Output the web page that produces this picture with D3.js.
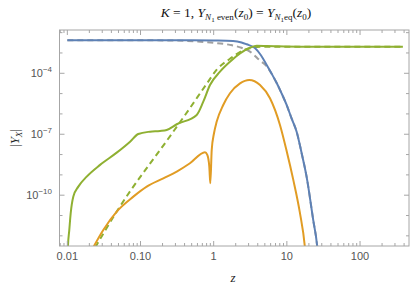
<!DOCTYPE html>
<html><head><meta charset="utf-8">
<script src="https://cdn.jsdelivr.net/npm/d3@7"></script>
<style>body{margin:0;background:#fff}svg{display:block}</style>
</head><body>
<svg id="c" width="415" height="291"></svg>
<script>
// ---- data: [z, |Y|] ----
const blueYN1 = [[0.01,4.2e-3],[0.1,4.2e-3],[0.5,4.2e-3],[1,4.1e-3],[1.84,3.9e-3],[2.4,3.3e-3],[2.82,2.67e-3],[3.66,1.75e-3],[4.4,7.9e-4],[5.3,2.55e-4],[6.2,9.5e-5],[7.26,3.3e-5],[8.5,1.0e-5],[9.93,2.75e-6],[11.6,6e-7],[13.6,1.34e-7],[15.9,1.2e-8],[18.6,8.2e-10],[22.9,6.1e-12],[26,2.9e-13],[28,1e-14]];
const grayEq = [[0.01,4.2e-3],[0.1,4.2e-3],[0.3,4.1e-3],[0.586,3.65e-3],[1,3.15e-3],[1.67,2.5e-3],[2.4,1.8e-3],[3.13,1.16e-3],[4.3,4.2e-4],[5.3,2.2e-4],[6.2,9.5e-5],[7.26,3.3e-5],[8.5,1.0e-5],[9.93,2.75e-6],[11.6,6e-7],[13.6,1.34e-7],[15.9,1.2e-8],[18.6,8.2e-10],[22.9,6.1e-12],[26,2.9e-13],[28,1e-14]];
const greenSolid = [[0.01,1e-14],[0.0102,3e-13],[0.01064,1.95e-12],[0.01112,1.3e-11],[0.01208,8.6e-11],[0.01413,2.64e-10],[0.0184,8.2e-10],[0.028,3.1e-9],[0.0473,1.24e-8],[0.072,4.3e-8],[0.0933,1.03e-7],[0.135,1.34e-7],[0.1846,1.45e-7],[0.228,1.63e-7],[0.3125,3.1e-7],[0.586,8.9e-7],[0.721,4.0e-6],[0.89,2.65e-5],[1.22,1.2e-4],[1.67,3.7e-4],[2.29,9.6e-4],[3.13,1.8e-3],[3.87,2.25e-3],[5.3,2.2e-3],[15.1,2.04e-3],[385,2.04e-3]];
const greenDashed = [[0.0205,1e-13],[0.0473,1.56e-11],[0.2806,1.34e-7],[0.474,1.95e-6],[0.80,3.0e-5],[1.10,1.5e-4],[1.67,5.2e-4],[2.54,1.35e-3],[3.13,1.7e-3],[4.3,2.03e-3],[6,2.04e-3],[385,2.04e-3]];
const orangeOdd = [[0.0195,1e-13],[0.031,1.95e-12],[0.0473,1.56e-11],[0.0798,8.5e-11],[0.1216,2.64e-10],[0.205,6.8e-10],[0.3125,1.45e-9],[0.474,3.74e-9],[0.760,1.3e-8],[0.818,9.6e-9],[0.871,2.55e-9],[0.899,3.9e-10],[0.94,1.69e-8],[1.01,1.12e-7],[1.10,4.2e-7],[1.35,2.76e-6],[1.67,1.04e-5],[2.29,3.2e-5],[3.06,4.7e-5],[4.3,2.65e-5],[5.88,5.9e-6],[8.05,2.86e-7],[9.93,1.5e-8],[12.2,6e-10],[15,1.5e-11],[17.6,3e-13],[19,1e-14]];
const xTickVals = [0.01,0.1,1,10,100];
const xTickLabels = ["0.01","0.10","1","10","100"];
const yTickExps = [-4,-7,-10];

// ---- layout ----
const L=59.5,R=409,T=30,B=246;
const x = d3.scaleLog().domain([Math.pow(10,-2.107),Math.pow(10,2.669)]).range([L,R]);
const y = d3.scaleLog().domain([Math.pow(10,-12.5),Math.pow(10,-1.87)]).range([B,T]);
const svg = d3.select('#c');

svg.append('clipPath').attr('id','clip').append('rect').attr('x',L).attr('y',T).attr('width',R-L).attr('height',B-T);

const line = d3.line().x(d=>x(d[0])).y(d=>y(d[1])).curve(d3.curveMonotoneX);
const g = svg.append('g').attr('clip-path','url(#clip)');
function draw(data,color,dash){
  g.append('path').attr('d',line(data)).attr('fill','none').attr('stroke',color)
   .attr('stroke-width',2).attr('stroke-dasharray',dash||null).attr('stroke-linejoin','round');
}
draw(grayEq,'#a0a0a0','6,4');
draw(greenDashed,'#8fb032','6,4');
draw(blueYN1,'#5e81b5');
draw(orangeOdd,'#e19c24');
draw(greenSolid,'#8fb032');

// ---- frame ----
const frameColor='#a6a6a6';
svg.append('rect').attr('x',L).attr('y',T).attr('width',R-L).attr('height',B-T)
  .attr('fill','none').attr('stroke',frameColor).attr('stroke-width',1);

const xMinor=[];
for(let e=-3;e<=3;e++){for(let m=1;m<=9;m++){const v=m*Math.pow(10,e);if(x(v)>=L&&x(v)<=R)xMinor.push([v,m===1]);}}
xMinor.forEach(([v,maj])=>{
  const len=maj?5:3, px=x(v);
  svg.append('line').attr('x1',px).attr('x2',px).attr('y1',B).attr('y2',B-len).attr('stroke',frameColor);
  svg.append('line').attr('x1',px).attr('x2',px).attr('y1',T).attr('y2',T+len).attr('stroke',frameColor);
});
for(let e=-12;e<=-2;e++){
  const maj=yTickExps.includes(e), len=maj?5:3, py=y(Math.pow(10,e));
  svg.append('line').attr('x1',L).attr('x2',L+len).attr('y1',py).attr('y2',py).attr('stroke',frameColor);
  svg.append('line').attr('x1',R).attr('x2',R-len).attr('y1',py).attr('y2',py).attr('stroke',frameColor);
}
const lab='#555';
xTickVals.forEach((v,i)=>{
  svg.append('text').attr('x',x(v)).attr('y',260).attr('text-anchor','middle')
    .attr('font-family','Liberation Sans, Arial, sans-serif').attr('font-size',11).attr('fill',lab).text(xTickLabels[i]);
});
yTickExps.forEach(e=>{
  const t=svg.append('text').attr('x',52).attr('y',y(Math.pow(10,e))+4).attr('text-anchor','end')
    .attr('font-family','Liberation Sans, Arial, sans-serif').attr('font-size',11).attr('fill',lab);
  t.append('tspan').text('10');
  t.append('tspan').attr('dy',-5).attr('font-size',8).text('\u2212'+Math.abs(e));
});

// ---- labels ----
const serif='Liberation Serif, Times New Roman, serif';
svg.append('text').attr('x',233).attr('y',282).attr('text-anchor','middle').attr('font-family',serif)
  .attr('font-style','italic').attr('font-size',13).attr('fill','#222').text('z');
const yl=svg.append('text').attr('transform','translate(19,138) rotate(-90)').attr('text-anchor','middle')
  .attr('font-family',serif).attr('font-size',13).attr('fill','#222');
yl.append('tspan').text('|');
yl.append('tspan').attr('font-style','italic').text('Y');
yl.append('tspan').attr('font-style','italic').attr('font-size',9).attr('dy',3).text('X');
yl.append('tspan').attr('dy',-3).text('|');

const tt=svg.append('text').attr('x',236).attr('y',17).attr('text-anchor','middle')
  .attr('font-family',serif).attr('font-size',13.5).attr('fill','#111');
tt.append('tspan').attr('font-style','italic').text('K');
tt.append('tspan').text(' = 1, ');
tt.append('tspan').attr('font-style','italic').text('Y');
tt.append('tspan').attr('font-style','italic').attr('font-size',9).attr('dy',3).text('N');
tt.append('tspan').attr('font-size',7).attr('dy',2).text('1');
tt.append('tspan').attr('font-size',9).attr('dy',-2).text(' even');
tt.append('tspan').attr('dy',-3).text('(');
tt.append('tspan').attr('font-style','italic').text('z');
tt.append('tspan').attr('font-size',9).attr('dy',3).text('0');
tt.append('tspan').attr('dy',-3).text(') = ');
tt.append('tspan').attr('font-style','italic').text('Y');
tt.append('tspan').attr('font-style','italic').attr('font-size',9).attr('dy',3).text('N');
tt.append('tspan').attr('font-size',7).attr('dy',2).text('1');
tt.append('tspan').attr('font-size',9).attr('dy',-2).text('eq');
tt.append('tspan').attr('dy',-3).text('(');
tt.append('tspan').attr('font-style','italic').text('z');
tt.append('tspan').attr('font-size',9).attr('dy',3).text('0');
tt.append('tspan').attr('dy',-3).text(')');
</script>
</body></html>
